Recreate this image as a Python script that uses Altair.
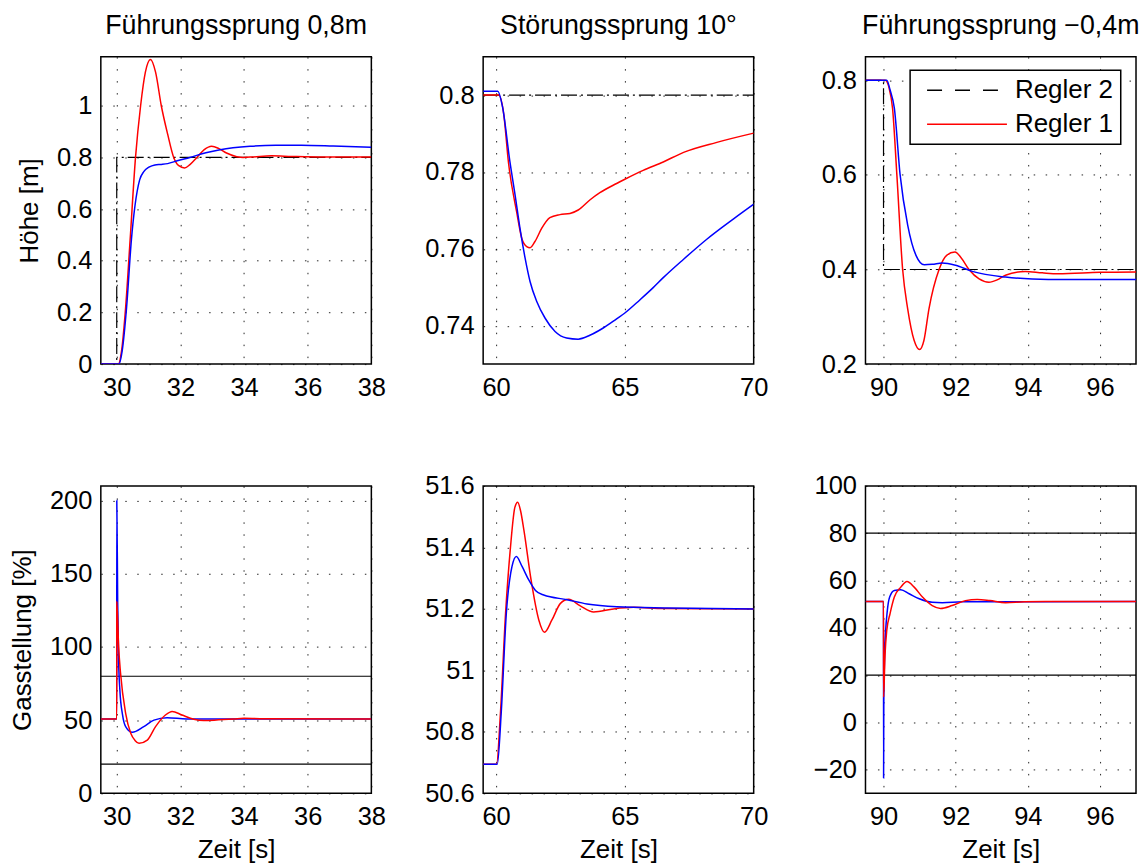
import altair as alt
import pandas as pd

FONT = "Liberation Sans"

# ---------------- Panel 1: Führungssprung 0,8m (Höhe) ----------------
p1_set_t = [29.5, 30.0, 30.0, 38.0]
p1_set_v = [0.0, 0.0, 0.8, 0.8]
p1_red_t = [29.5, 30.05, 30.15, 30.28, 30.42, 30.59, 30.75, 30.9, 31.06, 31.22, 31.4, 31.6,
            31.79, 31.95, 32.13, 32.3, 32.52, 32.75, 32.98, 33.2, 33.45, 33.77, 33.97, 34.3,
            34.86, 35.5, 36.5, 38.0]
p1_red_v = [0.0, 0.0, 0.05, 0.22, 0.48, 0.80, 1.0, 1.13, 1.179, 1.13, 1.0, 0.89,
            0.80, 0.768, 0.759, 0.772, 0.80, 0.830, 0.843, 0.835, 0.817, 0.803, 0.800, 0.802,
            0.806, 0.804, 0.802, 0.802]
p1_blue_t = [29.5, 30.07, 30.17, 30.31, 30.46, 30.57, 30.72, 30.85, 31.01, 31.2, 31.4, 31.6,
             31.9, 32.3, 32.8, 33.25, 34.19, 35.0, 35.8, 36.8, 38.0]
p1_blue_v = [0.0, 0.0, 0.05, 0.22, 0.48, 0.61, 0.713, 0.745, 0.762, 0.771, 0.773, 0.776,
             0.787, 0.80, 0.818, 0.830, 0.843, 0.847, 0.847, 0.844, 0.839]

# ---------------- Panel 2: Störungssprung 10° (Höhe) ----------------
p2_set_t = [59.5, 70.0]
p2_set_v = [0.8, 0.8]
p2_red_t = [59.5, 60.1, 60.3, 60.48, 60.8, 61.0, 61.19, 61.32, 61.51, 61.77, 62.09, 62.48,
            62.87, 63.19, 63.64, 64.03, 64.68, 65.0, 65.71, 66.49, 67.28, 68.57, 70.0]
p2_red_v = [0.8, 0.8, 0.795, 0.7826, 0.7696, 0.7627, 0.7606, 0.7603, 0.7619, 0.7653, 0.7681, 0.7689,
            0.7692, 0.7701, 0.7727, 0.7746, 0.7770, 0.7781, 0.7804, 0.7826, 0.7851, 0.7877, 0.7901]
p2_blue_t = [59.5, 60.07, 60.25, 60.54, 60.74, 60.93, 61.13, 61.32, 61.58, 61.9, 62.29, 62.74,
             63.19, 63.64, 64.16, 64.68, 65.0, 65.58, 66.1, 66.49, 67.28, 68.18, 69.22, 70.0]
p2_blue_v = [0.801, 0.801, 0.797, 0.7826, 0.7740, 0.7653, 0.7575, 0.7515, 0.7463, 0.7420, 0.7385, 0.7368,
             0.7365, 0.7375, 0.7394, 0.7418, 0.7433, 0.7467, 0.7499, 0.7525, 0.7573, 0.7625, 0.7678, 0.7716]

# ---------------- Panel 3: Führungssprung -0,4m (Höhe) ----------------
p3_set_t = [89.5, 90.0, 90.0, 97.0]
p3_set_v = [0.8, 0.8, 0.4, 0.4]
p3_red_t = [89.5, 90.05, 90.15, 90.25, 90.37, 90.53, 90.67, 90.85, 91.0, 91.12, 91.26, 91.54,
            91.75, 91.98, 92.15, 92.37, 92.65, 92.92, 93.15, 93.38, 93.93, 94.4, 94.84, 96.0, 97.0]
p3_red_v = [0.8, 0.8, 0.785, 0.741, 0.6, 0.4, 0.317, 0.25, 0.231, 0.25, 0.317, 0.40,
            0.43, 0.437, 0.425, 0.40, 0.38, 0.373, 0.378, 0.388, 0.396, 0.393, 0.391, 0.394, 0.395]
p3_blue_t = [89.5, 90.09, 90.18, 90.3, 90.46, 90.67, 90.9, 91.13, 91.35, 91.63, 92.0, 92.46,
             93.38, 94.57, 97.0]
p3_blue_v = [0.8, 0.8, 0.78, 0.741, 0.6, 0.494, 0.43, 0.41, 0.411, 0.414, 0.409, 0.396,
             0.384, 0.379, 0.379]

# ---------------- Panel 4: Gasstellung, Führungssprung 0,8m ----------------
p4_lim_hi = 80
p4_lim_lo = 20
p4_red_t = [29.5, 30.0, 30.002, 30.06, 30.12, 30.28, 30.44, 30.58, 30.7, 30.96, 31.22, 31.53,
            31.74, 32.05, 32.42, 32.73, 33.2, 33.67, 34.0, 34.5, 38.0]
p4_red_v = [50.8, 50.8, 131.0, 100.0, 82.0, 54.7, 41.0, 36.0, 34.2, 36.4, 45.6, 53.5,
            56.0, 53.5, 50.6, 49.7, 50.2, 50.8, 51.3, 51.0, 50.8]
p4_blue_t = [29.5, 30.0, 30.002, 30.03, 30.06, 30.1, 30.18, 30.28, 30.49, 30.85, 31.17, 31.58,
             32.2, 38.0]
p4_blue_v = [50.8, 50.8, 200.0, 130.0, 90.0, 70.0, 54.0, 45.6, 41.7, 45.6, 50.0, 51.7,
             50.8, 50.8]

# ---------------- Panel 5: Gasstellung, Störungssprung 10° ----------------
p5_red_t = [59.5, 60.02, 60.17, 60.37, 60.56, 60.73, 60.84, 60.95, 61.08, 61.36, 61.66, 61.88,
            62.17, 62.5, 62.82, 63.27, 63.79, 64.56, 65.34, 66.5, 70.0]
p5_red_v = [50.695, 50.695, 50.86, 51.186, 51.40, 51.53, 51.547, 51.52, 51.457, 51.294, 51.164, 51.124,
            51.164, 51.218, 51.231, 51.21, 51.19, 51.2, 51.205, 51.201, 51.2]
p5_blue_t = [59.5, 60.05, 60.2, 60.4, 60.62, 60.79, 61.01, 61.27, 61.53, 61.85, 62.76, 63.53,
             64.69, 66.63, 70.0]
p5_blue_v = [50.695, 50.695, 50.86, 51.186, 51.338, 51.37, 51.338, 51.294, 51.26, 51.245, 51.23, 51.216,
             51.207, 51.203, 51.2]

# ---------------- Panel 6: Gasstellung, Führungssprung -0,4m ----------------
p6_lim_hi = 80
p6_lim_lo = 20
p6_red_t = [89.5, 90.0, 90.002, 90.04, 90.09, 90.18, 90.3, 90.48, 90.65, 90.85, 91.08, 91.35,
            91.58, 91.9, 92.27, 92.6, 92.95, 93.38, 93.9, 94.5, 97.0]
p6_red_v = [51.1, 51.1, 10.7, 28.0, 38.9, 45.9, 53.0, 57.2, 59.6, 57.2, 53.0, 49.4,
            48.2, 49.4, 51.5, 52.0, 51.5, 50.6, 51.0, 51.1, 51.1]
p6_blue_t = [89.5, 90.0, 90.002, 90.008, 90.03, 90.06, 90.1, 90.17, 90.3, 90.48, 90.71, 90.99,
             91.35, 91.63, 92.2, 97.0]
p6_blue_v = [51.1, 51.1, -23.5, 8.0, 28.0, 39.0, 46.5, 53.0, 55.8, 56.1, 54.4, 52.3,
             50.8, 50.6, 51.0, 51.1]

# ---------------- text ----------------
titles = ["Führungssprung 0,8m", "Störungssprung 10°", "Führungssprung \u22120,4m"]
legend_names = ["Regler 2", "Regler 1"]

W, H = 271, 308
FS_TICK = 25.5
FS_AXTITLE = 26
FS_TITLE = 26.8
FS_LEG = 26
SETDASH = [16, 4, 2, 4]
LABEL_EXPR = "format(datum.value, '~g')"


def frame(t, v, name=None):
    d = {"t": t, "v": v, "i": list(range(len(t)))}
    if name is not None:
        d["name"] = [name] * len(t)
    return pd.DataFrame(d)


def enc(xdom, ydom, xticks, yticks, ytitle, xtitle, ytitlex):
    xaxis_kw = dict(values=xticks, grid=True, ticks=False, tickSize=0, domain=False,
                    labelPadding=11, labelOverlap=False, labelFlush=False, labelExpr=LABEL_EXPR)
    if xtitle:
        xaxis_kw.update(title=xtitle, titleY=64, titleBaseline="alphabetic")
    else:
        xaxis_kw.update(title=None)
    yaxis_kw = dict(values=yticks, grid=True, ticks=False, tickSize=0, domain=False,
                    labelPadding=9, labelOverlap=False, labelFlush=False, labelExpr=LABEL_EXPR)
    if ytitle:
        yaxis_kw.update(title=ytitle, titleX=ytitlex, titleBaseline="alphabetic", titleAngle=270)
    else:
        yaxis_kw.update(title=None)
    return dict(
        x=alt.X("t:Q", scale=alt.Scale(domain=xdom, nice=False, zero=False), axis=alt.Axis(**xaxis_kw)),
        y=alt.Y("v:Q", scale=alt.Scale(domain=ydom, nice=False, zero=False), axis=alt.Axis(**yaxis_kw)),
        order=alt.Order("i:Q"),
    )


def line(df, e, color, width=1.5, dash=None, interp="monotone"):
    kw = dict(color=color, strokeWidth=width, clip=True, interpolate=interp)
    if dash is not None:
        kw["strokeDash"] = dash
    return alt.Chart(df).mark_line(**kw).encode(**e)


def title(txt):
    return alt.Title(txt, fontSize=FS_TITLE, font=FONT, fontWeight="normal", baseline="alphabetic",
                     offset=-4, frame="group", anchor="middle", color="black")


# Panel 1
e1 = enc([29.5, 38], [0, 1.19], [30, 32, 34, 36, 38], [0, 0.2, 0.4, 0.6, 0.8, 1.0], "Höhe [m]", None, -63)
c1 = alt.layer(
    line(frame(p1_set_t, p1_set_v), e1, "black", 1.2, SETDASH, "linear"),
    line(frame(p1_red_t, p1_red_v), e1, "#ff0000"),
    line(frame(p1_blue_t, p1_blue_v), e1, "#0000ff"),
).properties(width=W, height=H, title=title(titles[0]))

# Panel 2
e2 = enc([59.5, 70], [0.73, 0.81], [60, 65, 70], [0.74, 0.76, 0.78, 0.8], None, None, 0)
c2 = alt.layer(
    line(frame(p2_set_t, p2_set_v), e2, "black", 1.2, SETDASH, "linear"),
    line(frame(p2_red_t, p2_red_v), e2, "#ff0000"),
    line(frame(p2_blue_t, p2_blue_v), e2, "#0000ff"),
).properties(width=W, height=H, title=title(titles[1]))

# Panel 3 (with legend)
e3 = enc([89.5, 97], [0.2, 0.85], [90, 92, 94, 96], [0.2, 0.4, 0.6, 0.8], None, None, 0)
leg = alt.Legend(
    title=None, orient="none", legendX=44.7, legendY=13.7,
    symbolType="stroke", symbolSize=6400, symbolStrokeWidth=1.5, symbolOpacity=1,
    labelFontSize=FS_LEG, labelFont=FONT, labelColor="black",
    labelOffset=7, symbolOffset=9, padding=7, rowPadding=8,
    strokeColor="black", fillColor="white", clipHeight=26,
)
legend_df = pd.concat([frame(p3_set_t, p3_set_v, legend_names[0]),
                       frame(p3_red_t, p3_red_v, legend_names[1])], ignore_index=True)
c3 = alt.layer(
    line(frame(p3_set_t, p3_set_v), e3, "black", 1.2, SETDASH, "linear"),
    line(frame(p3_red_t, p3_red_v), e3, "#ff0000"),
    line(frame(p3_blue_t, p3_blue_v), e3, "#0000ff"),
    alt.Chart(legend_df).mark_line(opacity=0, strokeWidth=1.5, clip=True).encode(
        **e3,
        color=alt.Color("name:N", scale=alt.Scale(domain=legend_names, range=["black", "#ff0000"]), legend=leg),
        strokeDash=alt.StrokeDash("name:N", scale=alt.Scale(domain=legend_names, range=[[15, 13], [1, 0]]), legend=leg),
    ),
).properties(width=W, height=H, title=title(titles[2]))

# Panel 4
e4 = enc([29.5, 38], [0, 210], [30, 32, 34, 36, 38], [0, 50, 100, 150, 200], "Gasstellung [%]", "Zeit [s]", -70)
c4 = alt.layer(
    line(frame([29.5, 38], [p4_lim_hi, p4_lim_hi]), e4, "black", 1.2, None, "linear"),
    line(frame([29.5, 38], [p4_lim_lo, p4_lim_lo]), e4, "black", 1.2, None, "linear"),
    line(frame(p4_blue_t, p4_blue_v), e4, "#0000ff"),
    line(frame(p4_red_t, p4_red_v), e4, "#ff0000"),
).properties(width=W, height=H)

# Panel 5
e5 = enc([59.5, 70], [50.6, 51.6], [60, 65, 70], [50.6, 50.8, 51.0, 51.2, 51.4, 51.6], None, "Zeit [s]", 0)
c5 = alt.layer(
    line(frame(p5_red_t, p5_red_v), e5, "#ff0000"),
    line(frame(p5_blue_t, p5_blue_v), e5, "#0000ff"),
).properties(width=W, height=H)

# Panel 6
e6 = enc([89.5, 97], [-30, 100], [90, 92, 94, 96], [-20, 0, 20, 40, 60, 80, 100], None, "Zeit [s]", 0)
c6 = alt.layer(
    line(frame([89.5, 97], [p6_lim_hi, p6_lim_hi]), e6, "black", 1.2, None, "linear"),
    line(frame([89.5, 97], [p6_lim_lo, p6_lim_lo]), e6, "black", 1.2, None, "linear"),
    line(frame(p6_blue_t, p6_blue_v), e6, "#0000ff"),
    line(frame(p6_red_t, p6_red_v), e6, "#ff0000"),
).properties(width=W, height=H)

chart = alt.concat(
    c1, c2, c3, c4, c5, c6, columns=3,
    spacing={"row": 122, "column": 112}, bounds="flush",
).resolve_scale(
    color="independent", strokeDash="independent"
).resolve_legend(
    color="independent", strokeDash="independent"
).properties(
    padding={"left": 9, "top": 11, "right": 2, "bottom": 1},
    background="white",
).configure(font=FONT).configure_view(
    stroke="black", strokeWidth=1.5
).configure_axis(
    labelFont=FONT, labelFontSize=FS_TICK, labelColor="black",
    titleFont=FONT, titleFontSize=FS_AXTITLE, titleColor="black", titleFontWeight="normal",
    gridColor="black", gridDash=[1.5, 10.5], gridWidth=1, gridOpacity=0.85,
).configure_legend(strokeWidth=1.5)

chart.save("out.html", embed_options={"renderer": "svg", "actions": False})
